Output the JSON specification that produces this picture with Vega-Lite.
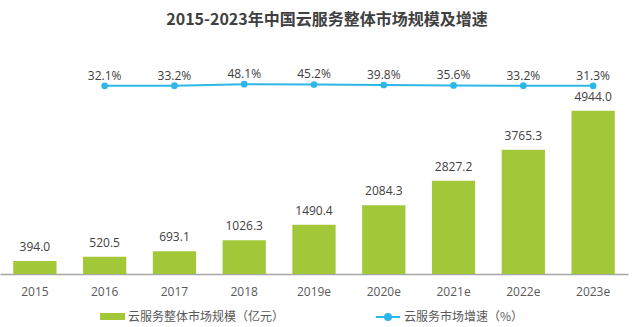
{
  "$schema": "https://vega.github.io/schema/vega-lite/v6.json",
  "width": 628,
  "height": 231,
  "autosize": {"type": "none"},
  "padding": {"left": 0, "top": 43, "right": 12, "bottom": 53},
  "background": "white",
  "title": {
    "text": "2015-2023年中国云服务整体市场规模及增速",
    "fontSize": 16,
    "fontWeight": "bold",
    "color": "#404040",
    "font": "Noto Sans CJK SC",
    "anchor": "middle",
    "offset": 15,
    "dx": 13
  },
  "config": {"view": {"stroke": null}, "font": "Noto Sans CJK SC"},
  "data": {
    "values": [
      {"year": "2015", "size": 394.0, "growth": null},
      {"year": "2016", "size": 520.5, "growth": 0.321},
      {"year": "2017", "size": 693.1, "growth": 0.332},
      {"year": "2018", "size": 1026.3, "growth": 0.481},
      {"year": "2019e", "size": 1490.4, "growth": 0.452},
      {"year": "2020e", "size": 2084.3, "growth": 0.398},
      {"year": "2021e", "size": 2827.2, "growth": 0.356},
      {"year": "2022e", "size": 3765.3, "growth": 0.332},
      {"year": "2023e", "size": 4944.0, "growth": 0.313}
    ]
  },
  "encoding": {
    "x": {
      "field": "year",
      "type": "ordinal",
      "sort": null,
      "scale": {"paddingInner": 0.38, "paddingOuter": 0.19},
      "axis": {
        "title": null,
        "labelAngle": 0,
        "ticks": false,
        "labelPadding": 12,
        "labelFontSize": 12,
        "labelFont": "Open Sans",
        "labelColor": "#595959",
        "domainColor": "#a6a6a6",
        "domainWidth": 1.5
      }
    }
  },
  "layer": [
    {
      "layer": [
        {
          "mark": {"type": "bar"},
          "encoding": {
            "y": {"field": "size", "type": "quantitative", "scale": {"domain": [0, 7000], "nice": false}, "axis": null},
            "color": {
              "datum": "云服务整体市场规模（亿元）",
              "type": "nominal",
              "scale": {"range": ["#a2c83a"]},
              "legend": {
                "title": null,
                "orient": "none",
                "legendX": 100,
                "legendY": 261,
                "padding": 0,
                "symbolType": "M-1,-0.28H1V0.28H-1Z",
                "symbolSize": 625,
                "symbolStrokeWidth": 0,
                "labelFontSize": 12,
                "labelColor": "#595959",
                "labelFont": "Noto Sans CJK SC",
                "labelOffset": 3,
                "labelLimit": 400
              }
            }
          }
        },
        {
          "mark": {"type": "text", "baseline": "bottom", "dy": -7, "fontSize": 12, "font": "Open Sans", "color": "#404040"},
          "encoding": {
            "y": {"field": "size", "type": "quantitative"},
            "text": {"field": "size", "type": "quantitative", "format": ".1f"}
          }
        }
      ]
    },
    {
      "transform": [{"filter": "datum.growth != null"}],
      "layer": [
        {
          "mark": {"type": "line", "strokeWidth": 2, "point": {"filled": true, "size": 45}},
          "encoding": {
            "y": {"field": "growth", "type": "quantitative", "scale": {"domain": [-18.5, 4.6], "nice": false, "zero": false}, "axis": null},
            "color": {
              "datum": "云服务市场增速（%）",
              "type": "nominal",
              "scale": {"range": ["#2db7e6"]},
              "legend": {
                "title": null,
                "orient": "none",
                "legendX": 375,
                "legendY": 261,
                "padding": 0,
                "symbolType": "M-1,0H1M-0.25,0A0.25,0.25 0 1,0 0.25,0A0.25,0.25 0 1,0 -0.25,0Z",
                "symbolSize": 576,
                "symbolStrokeWidth": 2,
                "symbolFillColor": "#2db7e6",
                "labelFontSize": 12,
                "labelColor": "#595959",
                "labelFont": "Noto Sans CJK SC",
                "labelOffset": 3,
                "labelLimit": 400
              }
            }
          }
        },
        {
          "mark": {"type": "text", "baseline": "bottom", "dy": -3, "fontSize": 12, "font": "Open Sans", "color": "#404040"},
          "encoding": {
            "y": {"field": "growth", "type": "quantitative"},
            "text": {"field": "growth", "type": "quantitative", "format": ".1%"}
          }
        }
      ]
    }
  ],
  "resolve": {"scale": {"y": "independent", "color": "independent"}, "legend": {"color": "independent"}}
}
